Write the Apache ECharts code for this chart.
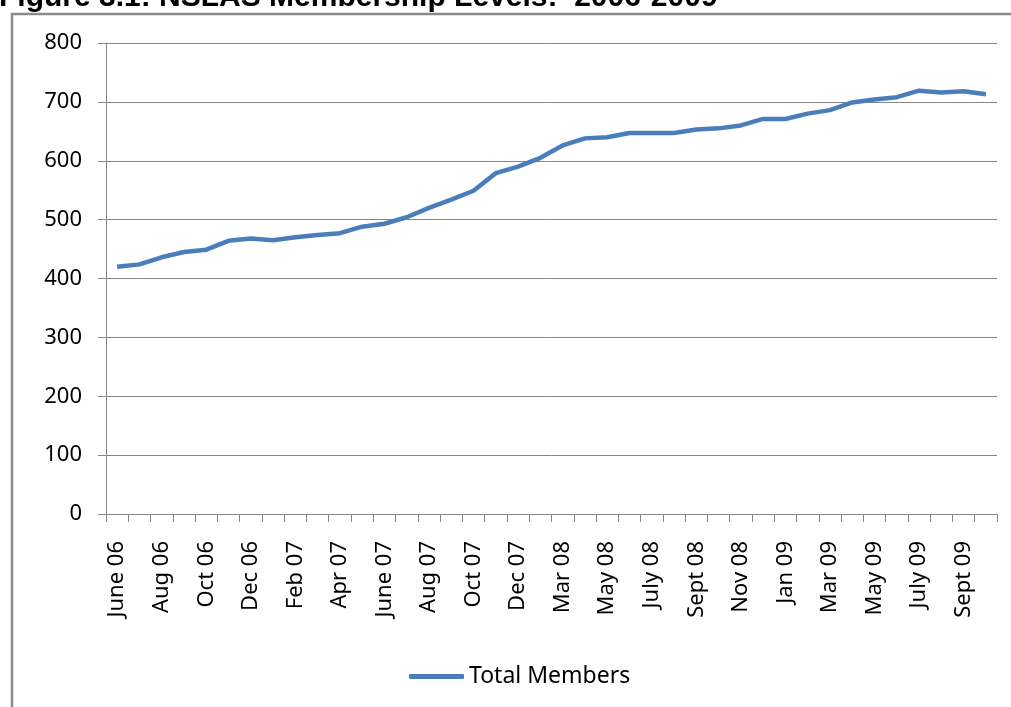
<!DOCTYPE html>
<html>
<head>
<meta charset="utf-8">
<script src="https://cdn.jsdelivr.net/npm/echarts@6/dist/echarts.min.js"></script>
<style>
html,body{margin:0;padding:0;background:#fff;}
#chart{width:1011px;height:707px;}
</style>
</head>
<body>
<div id="chart"></div>
<script>
var titleText = 'Figure 3.1: NSLAS Membership Levels:  2006-2009';
var seriesName = 'Total Members';
var categories = ['June 06','July 06','Aug 06','Sept 06','Oct 06','Nov 06','Dec 06',
  'Jan 07','Feb 07','Mar 07','Apr 07','May 07','June 07','July 07','Aug 07','Sept 07','Oct 07','Nov 07','Dec 07',
  'Jan 08','Mar 08','Apr 08','May 08','June 08','July 08','Aug 08','Sept 08','Oct 08','Nov 08','Dec 08',
  'Jan 09','Feb 09','Mar 09','Apr 09','May 09','June 09','July 09','Aug 09','Sept 09','Oct 09'];
var members = [420,424,436,445,449,464,468,465,470,474,
  477,488,493,504,520,534,549,579,590,605,
  626,638,640,647,647,647,653,655,660,671,
  671,680,686,699,704,708,719,716,718,713];
var yMin = 0, yMax = 800, yStep = 100;

var chart = echarts.init(document.getElementById('chart'));
var font = 'Noto Sans';
chart.setOption({
  animation: false,
  backgroundColor: '#ffffff',
  graphic: [
    {type:'rect', shape:{x:12, y:14, width:1100, height:800},
     style:{fill:'none', stroke:'#8a8a8a', lineWidth:2.5}, z:0},
    {type:'text', x:-1, y:-17,
     style:{text:titleText, font:'bold 30px "Liberation Sans", Arial', fill:'#000',
            verticalAlign:'top'}}
  ],
  grid: {left:106, right:14, top:43, bottom:193},
  legend: {
    data:[seriesName], bottom:14, left:404,
    icon:'roundRect', itemWidth:55, itemHeight:5, itemGap:10,
    textStyle:{fontFamily:font, fontSize:23, color:'#000'}
  },
  xAxis: {
    type:'category', data:categories, boundaryGap:true,
    axisLine:{show:true, lineStyle:{color:'#868686', width:1}},
    axisTick:{show:true, interval:0, length:8, lineStyle:{color:'#868686'}},
    axisLabel:{interval:1, rotate:90, margin:27, fontFamily:font, fontSize:22, color:'#000'},
    splitLine:{show:false}
  },
  yAxis: {
    type:'value', min:yMin, max:yMax, interval:yStep,
    axisLine:{show:true, lineStyle:{color:'#868686', width:1}},
    axisTick:{show:true, length:8, lineStyle:{color:'#868686'}},
    axisLabel:{margin:24, fontFamily:font, fontSize:22, color:'#000'},
    splitLine:{show:true, lineStyle:{color:'#868686', width:1}}
  },
  series: [{
    name:seriesName, type:'line', data:members,
    symbol:'none', smooth:false,
    lineStyle:{color:'#4a7ebb', width:4.5},
    itemStyle:{color:'#4a7ebb'}
  }]
});
</script>
</body>
</html>
